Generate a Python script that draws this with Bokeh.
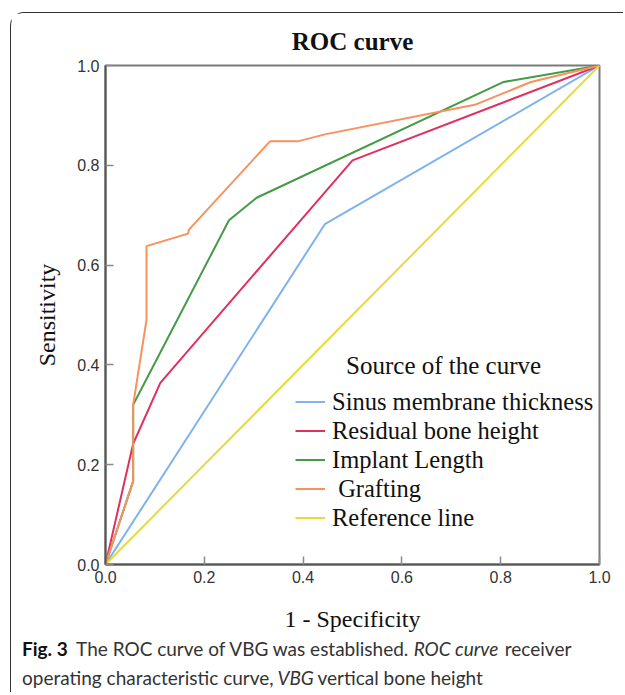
from bokeh.plotting import figure
from bokeh.layouts import column
from bokeh.models import Range1d, FixedTicker, Legend, LegendItem, Label
from bokeh.embed import file_html
from bokeh.resources import INLINE

# ---------------- data ----------------
series_names = ["Sinus membrane thickness", "Residual bone height", "Implant Length",
                " Grafting", "Reference line"]
series_colors = ["#7fb2ee", "#e0305f", "#459a45", "#f7915e", "#e4dc3c"]

fpr_sinus = [0.0, 0.444, 1.0]
tpr_sinus = [0.0, 0.682, 1.0]

fpr_rbh = [0.0, 0.056, 0.111, 0.5, 1.0]
tpr_rbh = [0.0, 0.242, 0.364, 0.81, 1.0]

fpr_il = [0.0, 0.056, 0.056, 0.25, 0.306, 0.806, 1.0]
tpr_il = [0.0, 0.167, 0.32, 0.69, 0.735, 0.967, 1.0]

fpr_graft = [0.0, 0.056, 0.056, 0.083, 0.083, 0.167, 0.169, 0.333, 0.389, 0.444, 0.75, 0.861, 1.0]
tpr_graft = [0.0, 0.167, 0.32, 0.49, 0.638, 0.663, 0.671, 0.848, 0.848, 0.862, 0.922, 0.967, 1.0]

fpr_ref = [0.0, 1.0]
tpr_ref = [0.0, 1.0]

tick_values = [0.0, 0.2, 0.4, 0.6, 0.8, 1.0]
tick_labels = ["0.0", "0.2", "0.4", "0.6", "0.8", "1.0"]

title_text = "ROC curve"
x_label = "1 - Specificity"
y_label = "Sensitivity"
legend_title = "Source of the curve"
caption1 = [("Fig. 3", "bold"), ("The ROC curve of VBG was established.", "normal"),
            ("ROC curve", "italic"), ("receiver", "normal")]
caption2 = [("operating characteristic curve,", "normal"), ("VBG", "italic"),
            ("vertical bone height", "normal")]

BORDER = "1.5px solid #333333"

# ---------------- main chart ----------------
FW = 612
p = figure(width=FW, height=52 + 498 + 74, output_backend="svg", toolbar_location=None,
           x_range=Range1d(0, 1), y_range=Range1d(0, 1),
           min_border_left=94, min_border_right=FW - 94 - 493, min_border_top=52,
           min_border_bottom=74,
           styles={"border-top": BORDER, "border-left": BORDER,
                   "border-top-left-radius": "14px", "box-sizing": "content-box"})
p.frame_align = False
p.background_fill_color = "white"
p.border_fill_color = "white"
p.grid.visible = False
p.outline_line_color = "#7a7a7a"
p.outline_line_width = 2

p.title.text = title_text
p.title.align = "center"
p.title.text_font = "Liberation Serif"
p.title.text_font_style = "bold"
p.title.text_font_size = "25px"
p.title.text_color = "#111111"
p.title.standoff = 22

for ax in (p.xaxis[0], p.yaxis[0]):
    ax.ticker = FixedTicker(ticks=tick_values)
    ax.major_label_overrides = {v: l for v, l in zip(tick_values, tick_labels)}
    ax.major_tick_in = 8
    ax.major_tick_out = 0
    ax.minor_tick_line_color = None
    ax.major_tick_line_color = "#8a8a8a"
    ax.major_tick_line_width = 1.5
    ax.axis_line_color = "#555555"
    ax.axis_line_width = 2
    ax.major_label_text_font = "Liberation Sans"
    ax.major_label_text_font_size = "16px"
    ax.major_label_text_color = "#333333"
    ax.major_label_standoff = 6
    ax.axis_label_text_font = "Liberation Serif"
    ax.axis_label_text_font_style = "normal"
    ax.axis_label_text_font_size = "24px"
    ax.axis_label_text_color = "#111111"

p.xaxis.axis_label = x_label
p.xaxis.axis_label_standoff = 20
p.yaxis.axis_label = y_label
p.yaxis.axis_label_standoff = 14

xs_list = [fpr_sinus, fpr_rbh, fpr_il, fpr_graft, fpr_ref]
ys_list = [tpr_sinus, tpr_rbh, tpr_il, tpr_graft, tpr_ref]
items = []
for name, col, xs, ys in zip(series_names, series_colors, xs_list, ys_list):
    r = p.line(xs, ys, line_color=col, line_width=2)
    items.append(LegendItem(label=name, renderers=[r]))

legend = Legend(items=items, location=(190, 32), padding=0, margin=0,
                border_line_color=None, background_fill_alpha=0,
                glyph_width=30, glyph_height=29, label_height=29, spacing=0,
                label_standoff=7, label_text_font="Liberation Serif",
                label_text_font_size="24.5px", label_text_color="#111111")
p.add_layout(legend, "center")

p.add_layout(Label(x=0.487, y=0.398, text=legend_title, text_font="Liberation Serif",
                   text_font_size="25px", text_baseline="middle", text_color="#111111"))

# ---------------- caption panel ----------------
CH = 55
cap = figure(width=FW, height=CH, output_backend="svg", toolbar_location=None,
             x_range=Range1d(0, FW), y_range=Range1d(CH, 0),
             x_axis_location=None, y_axis_location=None, min_border=0,
             styles={"border-left": BORDER, "box-sizing": "content-box"})
cap.frame_align = False
cap.grid.visible = False
cap.outline_line_color = None
cap.background_fill_color = "white"
cap.border_fill_color = "white"

cap_font = "Lato"
cap_size = "19px"
cap1_x = [10.5, 64.5, 401.5, 492.5]
cap2_x = [10.5, 265.5, 305.5]
for (txt, style), x in zip(caption1, cap1_x):
    cap.add_layout(Label(x=x, y=10.5, text=txt, text_font=cap_font, text_font_size=cap_size,
                         text_font_style=style, text_baseline="middle",
                         text_color="#111111" if style == "bold" else "#333333"))
for (txt, style), x in zip(caption2, cap2_x):
    cap.add_layout(Label(x=x, y=39.5, text=txt, text_font=cap_font, text_font_size=cap_size,
                         text_font_style=style, text_baseline="middle", text_color="#333333"))

layout = column(p, cap, spacing=0, margin=(12, 0, 0, 10))

open("out.html", "w").write(file_html(layout, INLINE))
